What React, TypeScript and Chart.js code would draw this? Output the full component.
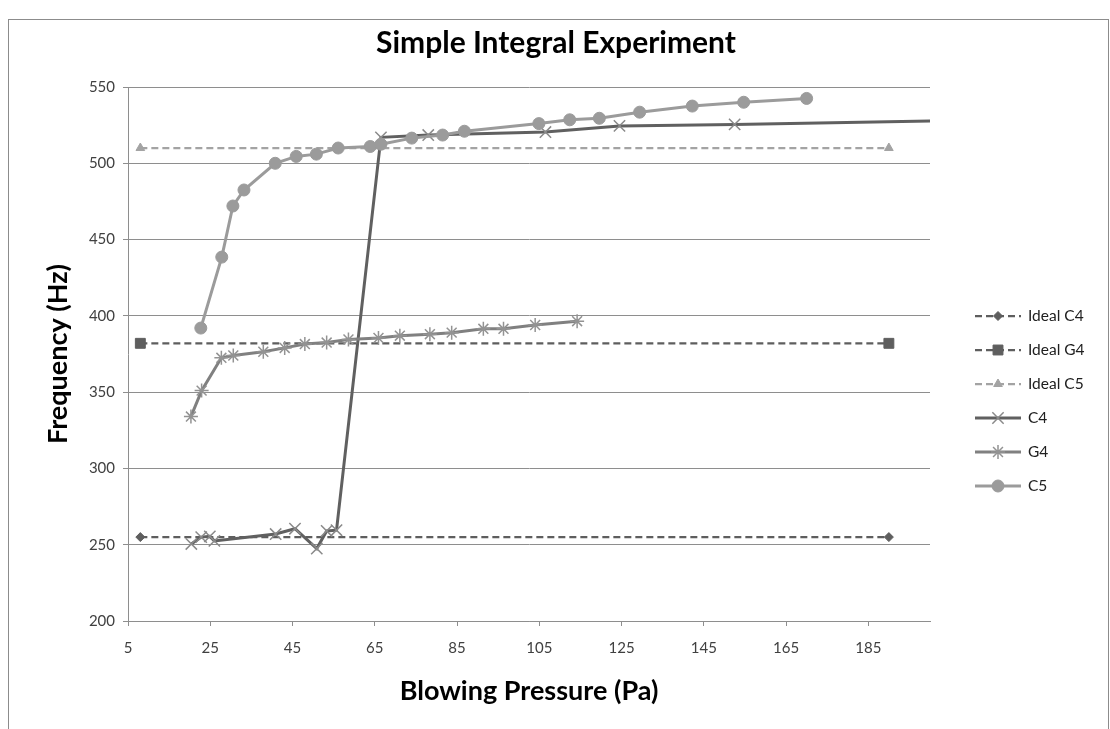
import React, { useEffect, useRef } from 'react';
import { Chart, registerables } from 'chart.js';
import { drawPoint } from 'chart.js/helpers';

Chart.register(...registerables);

// Axis ticks
const X_TICKS = [5, 25, 45, 65, 85, 105, 125, 145, 165, 185];
const Y_TICKS = [200, 250, 300, 350, 400, 450, 500, 550];

const TITLE = 'Simple Integral Experiment';

// Ideal pitch reference lines (Hz), drawn across the pressure range
const IDEAL_X = [8, 190];
const IDEAL_C4 = [255, 255];
const IDEAL_G4 = [382, 382];
const IDEAL_C5 = [510, 510];

// Measured frequency vs blowing pressure
const C4_X = [20.4, 22.8, 24.9, 26, 40.9, 45.6, 50.9, 53.3, 55.7, 66.5, 78, 106.5, 124.5, 152.5, 225];
const C4_Y = [250.5, 255, 255.5, 252.5, 257, 260.5, 247.5, 259, 259.5, 517, 518.5, 520.5, 524.5, 525.5, 529];

const G4_X = [20.3, 22.9, 27.7, 30.6, 37.9, 43.1, 48, 53.3, 58.6, 65.9, 71.1, 78.4, 83.7, 91.4, 96.3, 104, 114.2];
const G4_Y = [334, 351, 372.5, 374, 376.5, 379, 381.5, 382.5, 384.5, 385.5, 387, 388, 389, 391.5, 391.5, 394, 396.5];

const C5_X = [22.7, 27.8, 30.5, 33.2, 40.8, 45.9, 50.8, 56.1, 63.9, 66.5, 74, 81.5, 86.8, 104.9, 112.4, 119.6, 129.4, 142.2, 154.7, 170];
const C5_Y = [392, 438.5, 472, 482.5, 500, 504.5, 506, 510, 511, 512.5, 516.5, 518.5, 521, 526, 528.5, 529.5, 533.5, 537.5, 540, 542.5];

const FONT = 'Lato, "Open Sans", sans-serif';
const GRID = '#8e8e8e';
const TEXT = '#404040';

const pts = (xs: number[], ys: number[]) => xs.map((x, i) => ({ x, y: ys[i] }));

// White page, outer chart frame and the centred title
const framePlugin = {
  id: 'frame',
  beforeDraw(chart: any) {
    const { ctx, width, height } = chart;
    ctx.save();
    ctx.fillStyle = '#ffffff';
    ctx.fillRect(0, 0, width, height);
    ctx.strokeStyle = '#8c8c8c';
    ctx.lineWidth = 1;
    ctx.strokeRect(8.5, 19.5, 1100, height + 20);
    ctx.fillStyle = '#000000';
    ctx.font = `bold 30px ${FONT}`;
    ctx.textAlign = 'center';
    ctx.textBaseline = 'middle';
    ctx.fillText(TITLE, 556, 43);
    ctx.restore();
  },
};

const legendPlugin = {
  id: 'sideLegend',
  afterDraw(chart: any) {
    const { ctx } = chart;
    chart.data.datasets.forEach((ds: any, i: number) => {
      const y = 316 + i * 34;
      ctx.save();
      ctx.strokeStyle = ds.borderColor;
      ctx.lineWidth = ds.borderWidth;
      ctx.setLineDash(ds.borderDash || []);
      ctx.beginPath();
      ctx.moveTo(975, y);
      ctx.lineTo(1021, y);
      ctx.stroke();
      ctx.setLineDash([]);
      ctx.fillStyle = ds.pointBackgroundColor;
      ctx.strokeStyle = ds.pointBorderColor;
      ctx.lineWidth = ds.pointBorderWidth;
      drawPoint(ctx, { pointStyle: ds.pointStyle, radius: ds.pointRadius, borderWidth: ds.pointBorderWidth, rotation: 0 } as any, 998, y);
      ctx.fillStyle = '#202020';
      ctx.font = `15.5px ${FONT}`;
      ctx.textBaseline = 'middle';
      ctx.textAlign = 'left';
      ctx.fillText(ds.label, 1028, y);
      ctx.restore();
    });
  },
};

const idealSet = (label: string, ys: number[], color: string, style: string, radius: number) => ({
  label,
  data: pts(IDEAL_X, ys),
  showLine: true,
  borderColor: color,
  borderWidth: 2.25,
  borderDash: [7, 4],
  pointStyle: style,
  pointRadius: radius,
  pointBackgroundColor: color,
  pointBorderColor: color,
  pointBorderWidth: 1,
});

const dataSet = (label: string, xs: number[], ys: number[], line: string, mark: string, style: string, radius: number, bw: number) => ({
  label,
  data: pts(xs, ys),
  showLine: true,
  borderColor: line,
  borderWidth: 3,
  pointStyle: style,
  pointRadius: radius,
  pointBackgroundColor: mark,
  pointBorderColor: mark,
  pointBorderWidth: bw,
});

export default function App() {
  const ref = useRef<HTMLCanvasElement>(null);

  useEffect(() => {
    const datasets: any[] = [
      idealSet('Ideal C4', IDEAL_C4, '#5e5e5e', 'rectRot', 4.5),
      idealSet('Ideal G4', IDEAL_G4, '#5e5e5e', 'rect', 7),
      idealSet('Ideal C5', IDEAL_C5, '#a3a3a3', 'triangle', 5),
      dataSet('C4', C4_X, C4_Y, '#606060', '#8a8a8a', 'crossRot', 8, 1.5),
      dataSet('G4', G4_X, G4_Y, '#808080', '#939393', 'star', 7, 1.5),
      dataSet('C5', C5_X, C5_Y, '#9b9b9b', '#9b9b9b', 'circle', 6, 1),
    ];
    datasets.forEach((d, i) => (d.order = datasets.length - i));

    const chart = new Chart(ref.current as HTMLCanvasElement, {
      type: 'scatter',
      data: { datasets },
      options: {
        responsive: false,
        animation: false,
        layout: { padding: { left: 0, right: 180, top: 87, bottom: 0 } },
        plugins: {
          legend: { display: false },
          tooltip: { enabled: false },
          title: { display: false },
        },
        scales: {
          x: {
            type: 'linear',
            min: 5,
            max: 200,
            afterBuildTicks: (s: any) => {
              s.ticks = X_TICKS.map((value) => ({ value }));
            },
            afterFit: (s: any) => {
              s.height = 108;
            },
            ticks: { color: TEXT, font: { family: FONT, size: 15 }, padding: 13 },
            grid: { drawOnChartArea: false, color: GRID, tickLength: 5 },
            border: { color: GRID, width: 1 },
            title: {
              display: true,
              text: 'Blowing Pressure (Pa)',
              color: '#000000',
              font: { family: FONT, size: 27, weight: 'bold' },
              padding: { top: 0, bottom: 22 },
            },
          },
          y: {
            type: 'linear',
            min: 200,
            max: 550,
            afterBuildTicks: (s: any) => {
              s.ticks = Y_TICKS.map((value) => ({ value }));
            },
            afterFit: (s: any) => {
              s.width = 128;
            },
            ticks: { color: TEXT, font: { family: FONT, size: 15 }, padding: 8 },
            grid: { color: GRID, tickLength: 5 },
            border: { color: GRID, width: 1 },
            title: {
              display: true,
              text: 'Frequency (Hz)',
              color: '#000000',
              font: { family: FONT, size: 27, weight: 'bold' },
              padding: { top: 42, bottom: 0 },
            },
          },
        },
      } as any,
      plugins: [framePlugin, legendPlugin],
    });
    return () => chart.destroy();
  }, []);

  return (
    <div style={{ position: 'absolute', left: 0, top: 0, width: 1110, height: 729, background: '#ffffff' }}>
      <canvas ref={ref} width={1110} height={729} style={{ display: 'block', width: 1110, height: 729 }} />
    </div>
  );
}
